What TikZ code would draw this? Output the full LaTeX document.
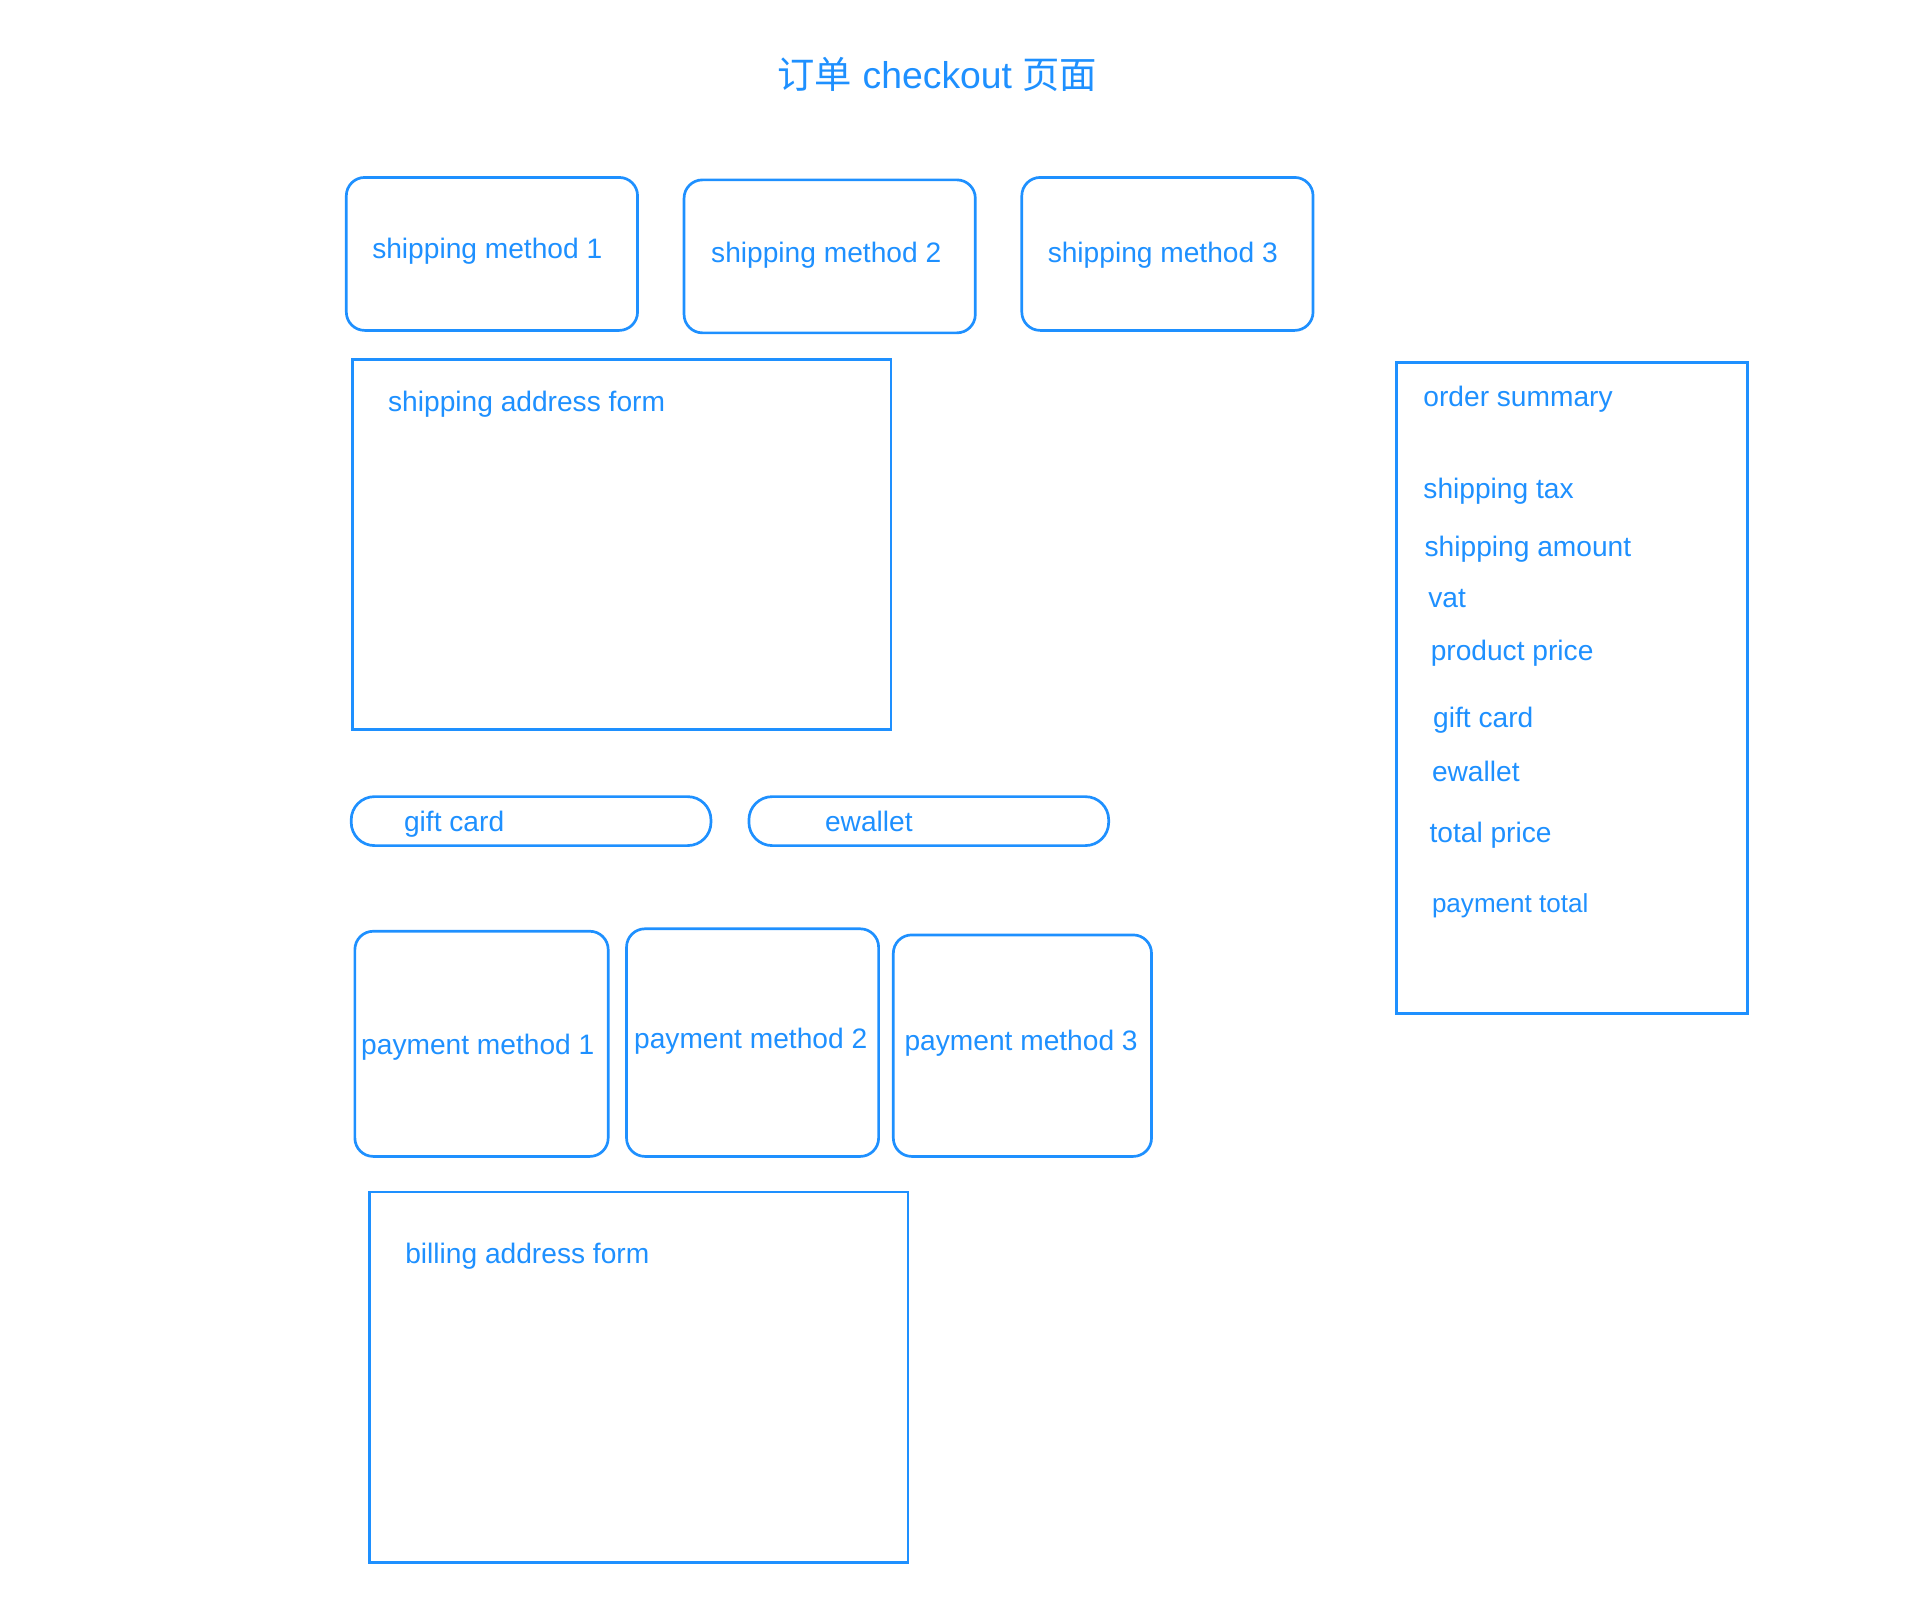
\documentclass[tikz,border=0pt]{standalone}
\usepackage{fontspec}
\setmainfont{Liberation Sans}
\newfontfamily\cjk{Noto Sans CJK SC}
\definecolor{ublue}{RGB}{30,144,255}
\tikzset{
  frame/.style={draw=ublue, line width=2.2pt},
  rbox/.style={frame, rounded corners=15pt},
  pill/.style={frame, rounded corners=19pt},
  lbl/.style={text=ublue, inner sep=0pt, anchor=west, yshift=-2.5pt, font=\fontsize{23}{28}\selectfont},
  slbl/.style={lbl, font=\fontsize{21.3}{26}\selectfont},
}
\begin{document}
\begin{tikzpicture}[x=1pt,y=-1pt]
\useasboundingbox (0,0) rectangle (1569,1323);
% title
\node[text=ublue, inner sep=0pt, font=\fontsize{30.5}{36}\selectfont] (title) at (766,61) {\cjk 订单\rmfamily{} checkout \cjk 页面};
% shipping methods
\draw[rbox] (283,145) rectangle (521,270);
\node[lbl] (sm1) at (304,203) {shipping method 1};
\draw[rbox] (559,147) rectangle (797,272);
\node[lbl] (sm2) at (581,206) {shipping method 2};
\draw[rbox] (835,145) rectangle (1073,270);
\node[lbl] (sm3) at (856,206) {shipping method 3};
% shipping address form
\draw[frame] (288,294) rectangle (728,596);
\node[lbl] (saf) at (317,328) {shipping address form};
% gift card / ewallet
\draw[pill] (287,651) rectangle (581,691);
\node[lbl] (gc) at (330,671) {gift card};
\draw[pill] (612,651) rectangle (906,691);
\node[lbl] (ew) at (674,669) {ewallet};
% payment methods
\draw[rbox] (290,761) rectangle (497,945);
\node[lbl] (pm1) at (295,853) {payment method 1};
\draw[rbox] (512,759) rectangle (718,945);
\node[lbl] (pm2) at (518,848) {payment method 2};
\draw[rbox] (730,764) rectangle (941,945);
\node[lbl] (pm3) at (739,850) {payment method 3};
% billing address form
\draw[frame] (302,974) rectangle (742,1277);
\node[lbl] (baf) at (331,1024) {billing address form};
% order summary
\draw[frame] (1141,296) rectangle (1428,828);
\node[lbl] (os) at (1163,324) {order summary};
\node[lbl] (st) at (1163,399) {shipping tax};
\node[lbl] (sa) at (1164,446) {shipping amount};
\node[lbl] (vat) at (1167,487) {vat};
\node[lbl] (pp) at (1169,531) {product price};
\node[lbl] (ogc) at (1171,586) {gift card};
\node[lbl] (oew) at (1170,628) {ewallet};
\node[lbl] (tp) at (1168,680) {total price};
\node[slbl] (pt) at (1170,738) {payment total};
\end{tikzpicture}
\end{document}
